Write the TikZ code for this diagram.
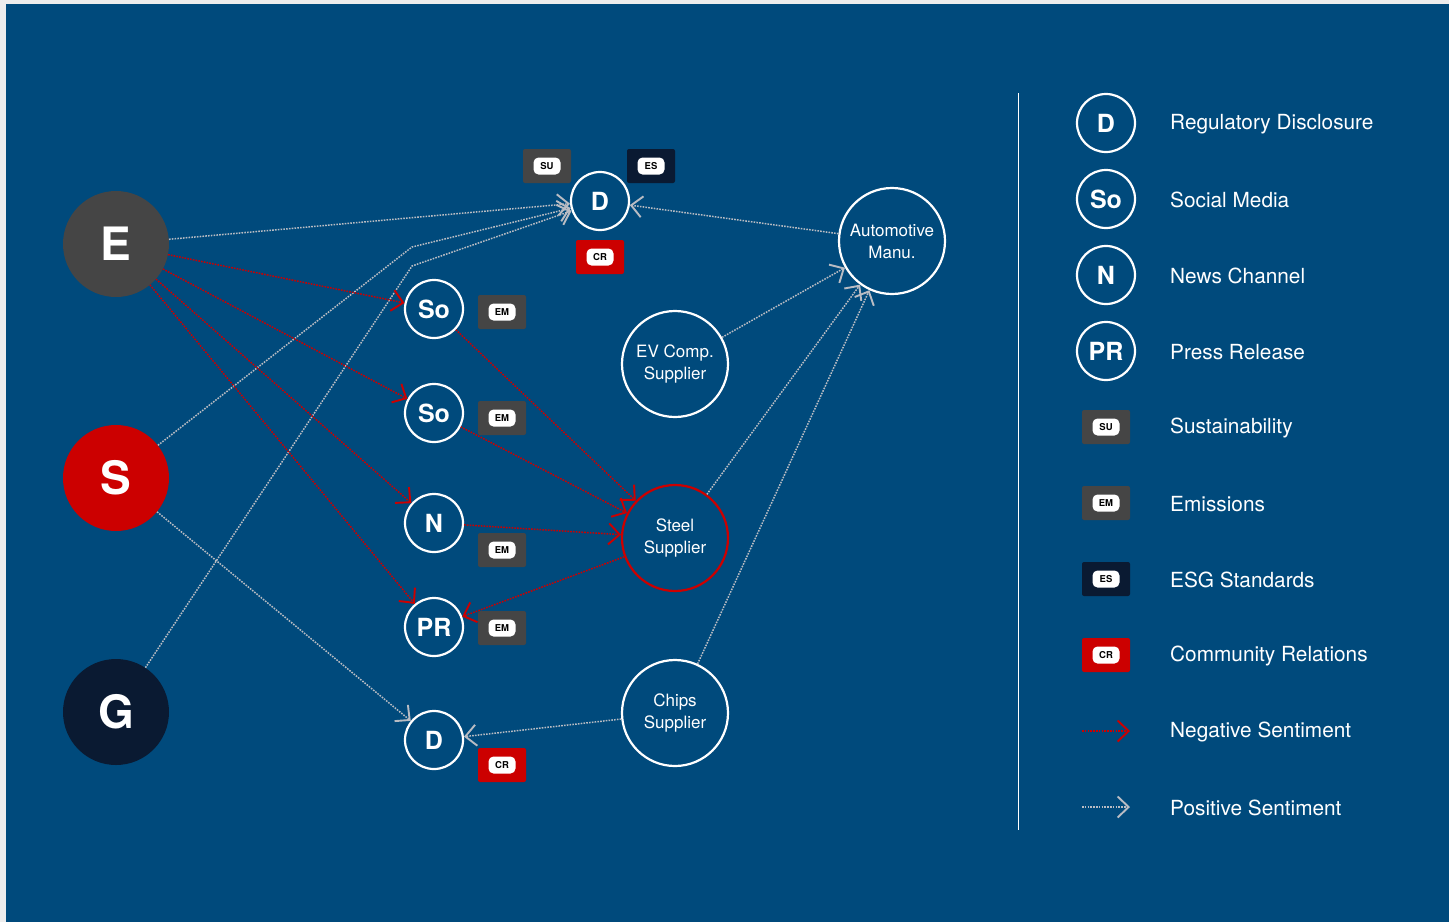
\documentclass[tikz,border=0pt]{standalone}
\usepackage{fontspec}
\setmainfont{TeX Gyre Heros}
\usetikzlibrary{arrows.meta}
\definecolor{bgblue}{RGB}{0,74,124}
\definecolor{esggray}{RGB}{69,69,69}
\definecolor{esgred}{RGB}{204,0,0}
\definecolor{esgnavy}{RGB}{10,26,50}
\definecolor{posgray}{RGB}{185,188,195}
\tikzset{
  big/.style={circle,minimum size=106pt,inner sep=0pt,text=white,font=\fontsize{46}{46}\selectfont\bfseries},
  src/.style={circle,draw=white,line width=2.2pt,minimum size=58pt,inner sep=0pt,text=white,font=\fontsize{25}{25}\selectfont\bfseries},
  firm/.style={circle,draw=white,line width=2.2pt,minimum size=106pt,inner sep=0pt,text=white,align=center,font=\fontsize{17}{22}\selectfont},
  tagbox/.style={rounded corners=2pt,minimum width=48pt,minimum height=34pt,inner sep=0pt},
  pill/.style={fill=white,rounded corners=5pt,minimum width=27pt,minimum height=17pt,inner sep=0pt,text=black,font=\fontsize{9.5}{9.5}\selectfont\bfseries},
  legtext/.style={anchor=west,inner sep=0pt,text=white,font=\fontsize{20.8}{21}\selectfont},
  negline/.style={draw=esgred,line width=1.5pt,dash pattern=on 1.6pt off 1.2pt,-{Straight Barb[length=11pt,width=21pt,line width=1.9pt]}},
  posline/.style={draw=posgray,line width=1.5pt,dash pattern=on 1.6pt off 1.2pt,-{Straight Barb[length=11pt,width=21pt,line width=1.9pt]}}
}
% tag: name, position, fill, text
\newcommand\esgtag[4]{\node[tagbox,fill=#3] (#1) at #2 {};
  \node[pill] (#1-p) at (#1) {#4};}
\begin{document}
\begin{tikzpicture}[x=1pt,y=-1pt]
  \useasboundingbox (0,0) rectangle (1449,922);
  \fill[black!7] (0,0) rectangle (1449,922);
  \fill[bgblue] (6,4) rectangle (1449,922);

  % E S G
  \node[big,fill=esggray] (E) at (116,244) {E};
  \node[big,fill=esgred] (S) at (116,478) {S};
  \node[big,fill=esgnavy] (G) at (116,712) {G};

  % sources
  \node[src] (Dt) at (600,201) {D};
  \node[src] (So1) at (434,309) {So};
  \node[src] (So2) at (434,413) {So};
  \node[src] (N) at (434,523) {N};
  \node[src] (PR) at (434,627) {PR};
  \node[src] (Db) at (434,740) {D};

  % companies
  \node[firm] (auto) at (892,241) {Automotive\\Manu.};
  \node[firm] (ev) at (675,364) {EV Comp.\\Supplier};
  \node[firm,draw=esgred] (steel) at (675,538) {Steel\\Supplier};
  \node[firm] (chips) at (675,713) {Chips\\Supplier};

  % tags
  \esgtag{su}{(547,166)}{esggray}{SU}
  \esgtag{es}{(651,166)}{esgnavy}{ES}
  \esgtag{cr1}{(600,257)}{esgred}{CR}
  \esgtag{em1}{(502,312)}{esggray}{EM}
  \esgtag{em2}{(502,418)}{esggray}{EM}
  \esgtag{em3}{(502,550)}{esggray}{EM}
  \esgtag{em4}{(502,628)}{esggray}{EM}
  \esgtag{cr2}{(502,765)}{esgred}{CR}

  % positive
  \coordinate (sb) at (412,247);
  \coordinate (gb) at (412,266);
  \draw[posline] (E) -- (Dt);
  \draw[posline] (S) -- (sb) -- (Dt);
  \draw[posline] (G) -- (gb) -- (Dt);
  \draw[posline] (auto) -- (Dt);
  \draw[posline] (ev) -- (auto);
  \draw[posline] (steel) -- (auto);
  \draw[posline] (chips) -- (auto);
  \draw[posline] (S) -- (Db);
  \draw[posline] (chips) -- (Db);

  % negative
  \draw[negline] (E) -- (So1);
  \draw[negline] (E) -- (So2);
  \draw[negline] (E) -- (N);
  \draw[negline] (E) -- (PR);
  \draw[negline] (So1) -- (steel);
  \draw[negline] (So2) -- (steel);
  \draw[negline] (N) -- (steel);
  \draw[negline] (steel) -- (PR);

  % legend
  \draw[white,line width=0.8pt] (1018,93) -- (1018,830);
  \node[src] (lD) at (1106,123) {D};
  \node[src] (lSo) at (1106,199) {So};
  \node[src] (lN) at (1106,275) {N};
  \node[src] (lPR) at (1106,351) {PR};
  \esgtag{lsu}{(1106,427)}{esggray}{SU}
  \esgtag{lem}{(1106,503)}{esggray}{EM}
  \esgtag{les}{(1106,579)}{esgnavy}{ES}
  \esgtag{lcr}{(1106,655)}{esgred}{CR}
  \coordinate (na) at (1082,731);
  \coordinate (nb) at (1130,731);
  \coordinate (pa) at (1082,807);
  \coordinate (pb) at (1130,807);
  \draw[negline] (na) -- (nb);
  \draw[posline] (pa) -- (pb);
  \node[legtext] (t1) at (1170,124) {Regulatory Disclosure};
  \node[legtext] (t2) at (1170,200) {Social Media};
  \node[legtext] (t3) at (1170,276) {News Channel};
  \node[legtext] (t4) at (1170,352) {Press Release};
  \node[legtext] (t5) at (1170,428) {Sustainability};
  \node[legtext] (t6) at (1170,504) {Emissions};
  \node[legtext] (t7) at (1170,580) {ESG Standards};
  \node[legtext] (t8) at (1170,656) {Community Relations};
  \node[legtext] (t9) at (1170,732) {Negative Sentiment};
  \node[legtext] (t10) at (1170,808) {Positive Sentiment};
\end{tikzpicture}
\end{document}
